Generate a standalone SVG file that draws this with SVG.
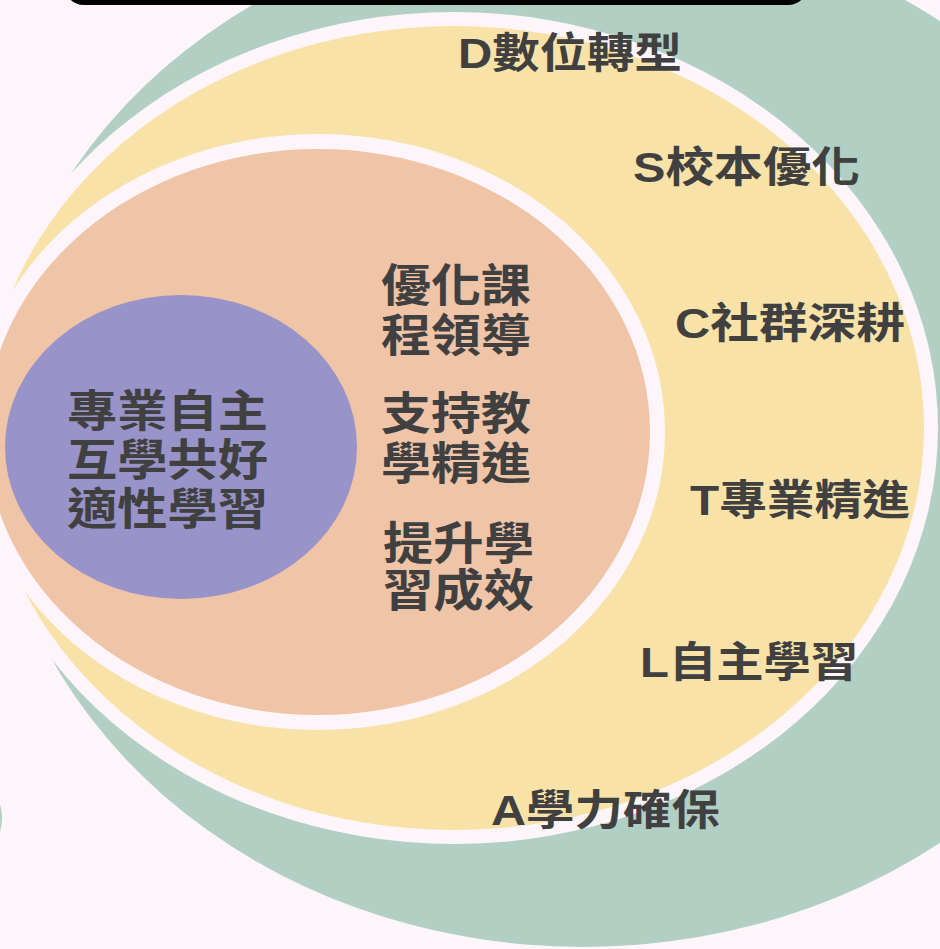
<svg xmlns="http://www.w3.org/2000/svg" width="940" height="949" viewBox="0 0 940 949">
<style>
.bg{fill:#FDF5FA}
.teal{fill:#B2CFC4}
.yel{fill:#F8E2A8}
.org{fill:#F0C4A7}
.pur{fill:#9893C8}
.ring{fill:#FDF5FA}
text{font-family:"Liberation Sans","Noto Sans CJK TC",sans-serif;font-weight:bold;fill:#404040}
.out{font-size:42px}
.mid{font-size:45px}
.core{font-size:44px}
</style>
<rect class="bg" x="0" y="0" width="940" height="949"/>
<g id="edge-sliver"><ellipse class="teal" cx="-22" cy="818" rx="24" ry="34"/></g>
<g id="outer-teal"><ellipse class="teal" cx="583" cy="432" rx="592" ry="515"/></g>
<g id="topbar"><rect x="64" y="-40" width="744" height="45" rx="20" fill="#000"/></g>
<g id="ring-yellow">
<ellipse class="ring" cx="454" cy="428" rx="484" ry="416"/>
<ellipse class="yel" cx="454" cy="428" rx="470" ry="402"/>
</g>
<g id="ring-orange">
<ellipse class="ring" cx="318" cy="432" rx="347" ry="298"/>
<ellipse class="org" cx="318" cy="432" rx="332" ry="283"/>
</g>
<g id="core-purple"><ellipse class="pur" cx="181" cy="447" rx="176" ry="152"/></g>
<g id="labels-outer">
<text class="out" x="458" y="68" textLength="224" lengthAdjust="spacingAndGlyphs">D數位轉型</text>
<text class="out" x="633" y="182" textLength="227" lengthAdjust="spacingAndGlyphs">S校本優化</text>
<text class="out" x="675" y="338" textLength="230" lengthAdjust="spacingAndGlyphs">C社群深耕</text>
<text class="out" x="690" y="515" textLength="220" lengthAdjust="spacingAndGlyphs">T專業精進</text>
<text class="out" x="640" y="677" textLength="218" lengthAdjust="spacingAndGlyphs">L自主學習</text>
<text class="out" x="491" y="825" textLength="229" lengthAdjust="spacingAndGlyphs">A學力確保</text>
</g>
<g id="labels-middle">
<text class="mid" x="381" y="302" textLength="150" lengthAdjust="spacingAndGlyphs">優化課</text>
<text class="mid" x="381" y="352" textLength="150" lengthAdjust="spacingAndGlyphs">程領導</text>
<text class="mid" x="381" y="430" textLength="150" lengthAdjust="spacingAndGlyphs">支持教</text>
<text class="mid" x="381" y="480" textLength="150" lengthAdjust="spacingAndGlyphs">學精進</text>
<text class="mid" x="383" y="560" textLength="151" lengthAdjust="spacingAndGlyphs">提升學</text>
<text class="mid" x="383" y="607" textLength="151" lengthAdjust="spacingAndGlyphs">習成效</text>
</g>
<g id="labels-core">
<text class="core" x="67" y="427" textLength="201" lengthAdjust="spacingAndGlyphs">專業自主</text>
<text class="core" x="67" y="476" textLength="201" lengthAdjust="spacingAndGlyphs">互學共好</text>
<text class="core" x="67" y="525" textLength="201" lengthAdjust="spacingAndGlyphs">適性學習</text>
</g>
</svg>
